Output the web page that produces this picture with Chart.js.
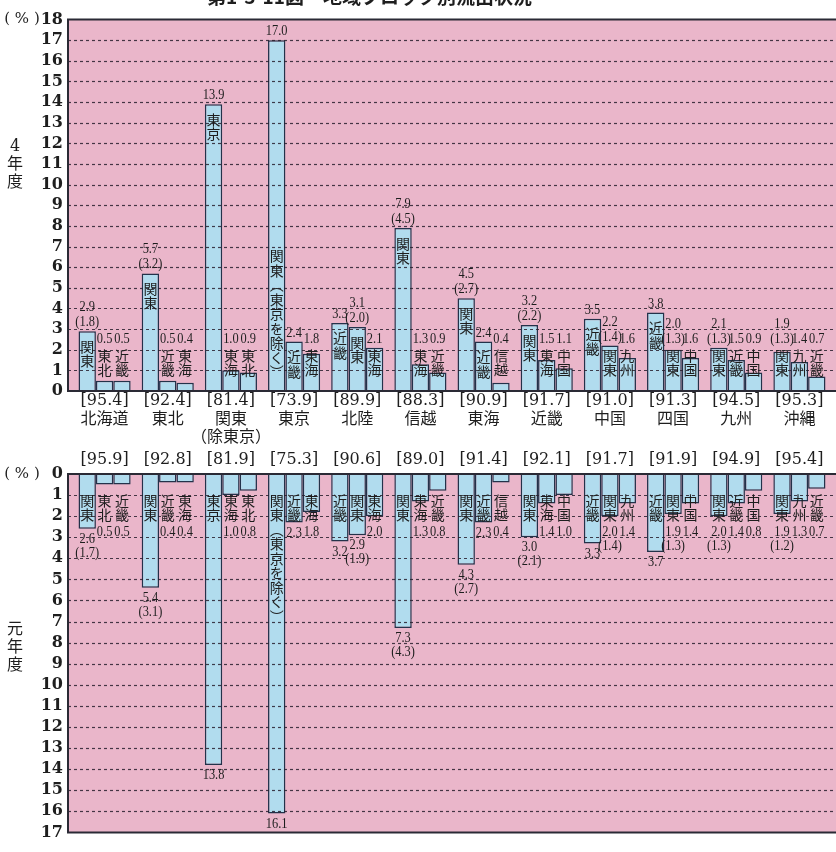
<!DOCTYPE html>
<html lang="ja">
<head>
<meta charset="utf-8">
<script src="https://cdn.jsdelivr.net/npm/chart.js@4.4.1/dist/chart.umd.min.js"></script>
<style>
  body { margin: 0; background: #fff; }
  #wrap { position: relative; width: 836px; height: 852px; overflow: hidden; }
  #chart4 { position: absolute; left: 0; top: 0; }
  #chart1 { position: absolute; left: 0; top: 440px; }
</style>
</head>
<body>
<div id="wrap">
  <canvas id="chart4" width="836" height="455"></canvas>
  <canvas id="chart1" width="836" height="412"></canvas>
</div>
<script>
// 出身地域ブロック
var regionNames = ['北海道', '東北', ['関東', '（除東京）'], '東京', '北陸', '信越', '東海', '近畿', '中国', '四国', '九州', '沖縄'];

// 自ブロック内進学率 [ ]
var retention4 = [95.4, 92.4, 81.4, 73.9, 89.9, 88.3, 90.9, 91.7, 91.0, 91.3, 94.5, 95.3];
var retention1 = [95.9, 92.8, 81.9, 75.3, 90.6, 89.0, 91.4, 92.1, 91.7, 91.9, 94.9, 95.4];

// 流出先 上位3ブロック（縦書き）
var dest1st = ['関東', '関東', '東京', '関東︵東京を除く︶', '近畿', '関東', '関東', '関東', '近畿', '近畿', '関東', '関東'];
var dest2nd = ['東北', '近畿', '東海', '近畿', '関東', '東海', '近畿', '東海', '関東', '関東', '近畿', '九州'];
var dest3rd = ['近畿', '東海', '東北', '東海', '東海', '近畿', '信越', '中国', '九州', '中国', '中国', '近畿'];

// 4年度 流出率（%）
var y4First = [2.9, 5.7, 13.9, 17.0, 3.3, 7.9, 4.5, 3.2, 3.5, 3.8, 2.1, 1.9];
var y4Second = [0.5, 0.5, 1.0, 2.4, 3.1, 1.3, 2.4, 1.5, 2.2, 2.0, 1.5, 1.4];
var y4Third = [0.5, 0.4, 0.9, 1.8, 2.1, 0.9, 0.4, 1.1, 1.6, 1.6, 0.9, 0.7];
// ( ) は うち東京
var y4TokyoFirst = [1.8, 3.2, null, null, null, 4.5, 2.7, 2.2, null, null, 1.3, 1.3];
var y4TokyoSecond = [null, null, null, null, 2.0, null, null, null, 1.4, 1.3, null, null];

// 元年度 流出率（%）
var y1First = [2.6, 5.4, 13.8, 16.1, 3.2, 7.3, 4.3, 3.0, 3.3, 3.7, 2.0, 1.9];
var y1Second = [0.5, 0.4, 1.0, 2.3, 2.9, 1.3, 2.3, 1.4, 2.0, 1.9, 1.4, 1.3];
var y1Third = [0.5, 0.4, 0.8, 1.8, 2.0, 0.8, 0.4, 1.0, 1.4, 1.4, 0.8, 0.7];
var y1TokyoFirst = [1.7, 3.1, null, null, null, 4.3, 2.7, 2.1, null, null, 1.3, 1.2];
var y1TokyoSecond = [null, null, null, null, 1.9, null, null, null, 1.4, 1.3, null, null];

var noTokyo = regionNames.map(function() { return null; });

var PINK = '#eab6ca';
var BLUE = '#b1dcee';
var INK = '#23324a';
var TEXT = '#1e1e1e';
var NUM_FONT = '15.5px "Liberation Serif"';
var NAME_FONT = '14px "Noto Sans CJK JP"';
var CHAR_STEP = 14.5;

function fmt(v) {
    return v.toFixed(1);
}

// 数値は少し縦長に詰めて描く
function drawNum(ctx, text, x, y) {
    ctx.save();
    ctx.translate(x, y);
    ctx.scale(0.8, 1);
    ctx.fillText(text, 0, 0);
    ctx.restore();
}

function drawName(ctx, name, x, top) {
    Array.from(name).forEach(function(c, k) {
        ctx.fillText(c, x, top + CHAR_STEP / 2 + k * CHAR_STEP);
    });
}

var panelPlugin = {
    id: 'panel',
    beforeDatasetsDraw: function(chart, args, opts) {
        var ctx = chart.ctx, a = chart.chartArea;
        ctx.save();
        ctx.fillStyle = PINK;
        ctx.fillRect(opts.edgeLeft, a.top, opts.edgeRight - opts.edgeLeft, a.bottom - a.top);
        ctx.restore();
    },
    afterDatasetsDraw: function(chart, args, opts) {
        var ctx = chart.ctx, a = chart.chartArea, y = chart.scales.y;
        var zero = y.getPixelForValue(0);
        ctx.save();

        // 破線の目盛線
        ctx.strokeStyle = 'rgba(40,30,45,0.85)';
        ctx.lineWidth = 1.2;
        ctx.setLineDash([3, 3]);
        for (var v = 1; v < y.max; v++) {
            var py = Math.round(y.getPixelForValue(v)) + 0.5;
            ctx.beginPath();
            ctx.moveTo(opts.edgeLeft, py);
            ctx.lineTo(opts.edgeRight, py);
            ctx.stroke();
        }
        ctx.setLineDash([]);

        // 枠線
        ctx.strokeStyle = '#2a2a35';
        ctx.lineWidth = 2;
        ctx.beginPath();
        ctx.moveTo(opts.edgeRight, a.top);
        ctx.lineTo(opts.edgeLeft, a.top);
        ctx.lineTo(opts.edgeLeft, a.bottom);
        ctx.lineTo(opts.edgeRight, a.bottom);
        ctx.stroke();

        // 流出先名と数値
        ctx.fillStyle = TEXT;
        ctx.textAlign = 'center';
        ctx.textBaseline = 'middle';
        chart.data.datasets.forEach(function(ds, di) {
            var meta = chart.getDatasetMeta(di);
            meta.data.forEach(function(bar, i) {
                var name = ds.names[i];
                var h = Array.from(name).length * CHAR_STEP;
                var val = fmt(ds.data[i]);
                var tk = ds.tokyo[i];
                if (!opts.down) {
                    var nameTop;
                    if (h > 60) {
                        nameTop = zero - 12 - h;
                    } else if (bar.y + 8 + h <= zero - 10) {
                        nameTop = bar.y + 8;
                    } else {
                        nameTop = zero - 14 - h;
                    }
                    ctx.font = NAME_FONT;
                    drawName(ctx, name, bar.x, nameTop);
                    ctx.font = NUM_FONT;
                    var lb = Math.min(bar.y, nameTop) - 3;
                    if (tk !== null) {
                        drawNum(ctx, '(' + fmt(tk) + ')', bar.x, lb - 6);
                        drawNum(ctx, val, bar.x, lb - 21);
                    } else {
                        drawNum(ctx, val, bar.x, lb - 6);
                    }
                } else {
                    var top = zero + 19;
                    ctx.font = NAME_FONT;
                    drawName(ctx, name, bar.x, top);
                    ctx.font = NUM_FONT;
                    var lt = Math.max(bar.y, top + h) + 4;
                    drawNum(ctx, val, bar.x, lt + 6);
                    if (tk !== null) {
                        drawNum(ctx, '(' + fmt(tk) + ')', bar.x, lt + 20);
                    }
                }
            });
        });
        ctx.restore();
    },
    afterDraw: function(chart, args, opts) {
        var ctx = chart.ctx, y = chart.scales.y;
        ctx.save();
        ctx.fillStyle = TEXT;
        ctx.textAlign = 'center';
        ctx.textBaseline = 'middle';
        ctx.font = '15px "DejaVu Serif"';
        ctx.fillText('( % )', 22, y.getPixelForValue(opts.down ? 0 : y.max));
        ctx.font = '16px "DejaVu Serif", "Noto Sans CJK JP"';
        opts.yearChars.forEach(function(c, k) {
            ctx.fillText(c, 15, opts.yearTop + k * 18);
        });
        if (opts.title) {
            ctx.textAlign = 'left';
            ctx.textBaseline = 'bottom';
            ctx.font = 'bold 19px "Noto Sans CJK JP"';
            ctx.fillText(opts.title, 207, 6);
        }
        ctx.restore();
    }
};

function buildDatasets(first, second, third, tokyo1, tokyo2) {
    var style = {
        backgroundColor: BLUE,
        borderColor: INK,
        borderWidth: 1.5,
        categoryPercentage: 0.825,
        barPercentage: 1.0
    };
    return [
        Object.assign({ data: first, names: dest1st, tokyo: tokyo1 }, style),
        Object.assign({ data: second, names: dest2nd, tokyo: tokyo2 }, style),
        Object.assign({ data: third, names: dest3rd, tokyo: noTokyo }, style)
    ];
}

function tickLabels(retention) {
    return regionNames.map(function(n, i) {
        return ['[' + retention[i].toFixed(1) + ']'].concat(n);
    });
}

var tickFont = { family: '"DejaVu Serif", "Noto Sans CJK JP"', size: 16, lineHeight: 1.15 };
var yFont = { family: '"DejaVu Serif"', size: 16, weight: 'bold' };

// 4年度（上向き）
new Chart(document.getElementById('chart4').getContext('2d'), {
    type: 'bar',
    data: {
        labels: tickLabels(retention4),
        datasets: buildDatasets(y4First, y4Second, y4Third, y4TokyoFirst, y4TokyoSecond)
    },
    options: {
        responsive: false,
        animation: false,
        events: [],
        layout: { padding: { top: 17, right: 5, left: 0, bottom: 0 } },
        plugins: {
            legend: { display: false },
            tooltip: { enabled: false },
            panel: {
                down: false,
                edgeLeft: 68,
                edgeRight: 836,
                yearChars: ['4', '年', '度'],
                yearTop: 147,
                title: '第1-3-11図　地域ブロック別流出状況'
            }
        },
        scales: {
            x: {
                grid: { display: false, drawTicks: false },
                border: { display: false },
                ticks: { color: TEXT, font: tickFont, padding: 1, maxRotation: 0, autoSkip: false },
                afterFit: function(scale) { scale.height = 64; }
            },
            y: {
                min: 0,
                max: 18,
                grid: { display: false, drawTicks: false },
                border: { display: false },
                ticks: { stepSize: 1, autoSkip: false, color: TEXT, font: yFont, padding: 10 },
                afterFit: function(scale) { scale.width = 73; }
            }
        }
    },
    plugins: [panelPlugin]
});

// 元年度（下向き）
new Chart(document.getElementById('chart1').getContext('2d'), {
    type: 'bar',
    data: {
        labels: retention1.map(function(r) { return '[' + r.toFixed(1) + ']'; }),
        datasets: buildDatasets(y1First, y1Second, y1Third, y1TokyoFirst, y1TokyoSecond)
    },
    options: {
        responsive: false,
        animation: false,
        events: [],
        layout: { padding: { top: 0, right: 5, left: 0, bottom: 9 } },
        plugins: {
            legend: { display: false },
            tooltip: { enabled: false },
            panel: {
                down: true,
                edgeLeft: 68,
                edgeRight: 836,
                yearChars: ['元', '年', '度'],
                yearTop: 190
            }
        },
        scales: {
            x: {
                position: 'top',
                grid: { display: false, drawTicks: false },
                border: { display: false },
                ticks: { color: TEXT, font: tickFont, padding: 5, maxRotation: 0, autoSkip: false },
                afterFit: function(scale) { scale.height = 34; }
            },
            y: {
                min: 0,
                max: 17,
                reverse: true,
                grid: { display: false, drawTicks: false },
                border: { display: false },
                ticks: { stepSize: 1, autoSkip: false, color: TEXT, font: yFont, padding: 10 },
                afterFit: function(scale) { scale.width = 73; }
            }
        }
    },
    plugins: [panelPlugin]
});
</script>
</body>
</html>
